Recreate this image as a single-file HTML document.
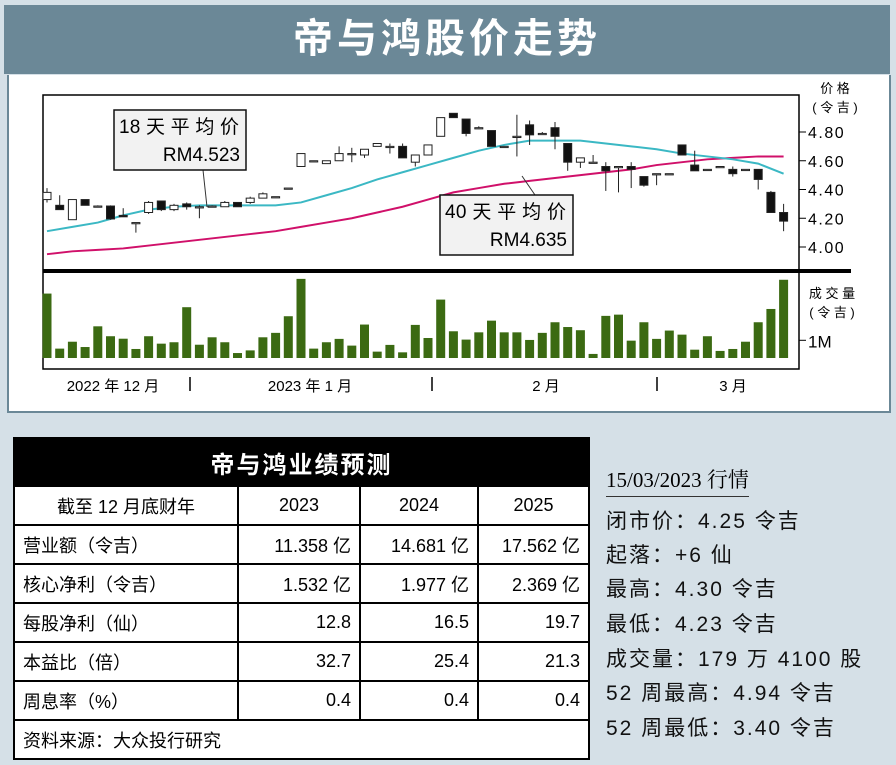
<!DOCTYPE html>
<html><head><meta charset="utf-8">
<style>
body{margin:0;width:896px;height:765px;background:#d5e0e7;font-family:"Liberation Sans","Noto Sans CJK SC",sans-serif;position:relative;overflow:hidden}
.abs{position:absolute}
#title{left:4px;top:5px;width:886px;height:69px;background:#6b8897;color:#fff;font-size:40px;font-weight:bold;text-align:center;line-height:69px;letter-spacing:4px}
#panel{left:7px;top:75px;width:880px;height:336px;background:#fff;border:2px solid #6b8897;border-top:none}
table{position:absolute;left:13px;top:437px;width:577px;border-collapse:collapse;background:#fff;font-size:18px}
td{border:2px solid #000;height:39px;padding:0 8px;box-sizing:border-box}
td.n{text-align:right}
.hd td{background:#000;color:#fff;font-size:24px;font-weight:bold;text-align:center;height:48px;letter-spacing:2px}
.side{left:606px;font-size:21px;letter-spacing:2px;color:#111}
</style></head><body>
<div id="title" class="abs">帝与鸿股价走势</div>
<div id="panel" class="abs"></div>
<svg class="abs" style="left:0;top:0" width="896" height="420" id="chart"></svg>

<table>
<tr class="hd"><td colspan="4">帝与鸿业绩预测</td></tr>
<tr><td style="text-align:center;width:224px">截至 12 月底财年</td><td style="text-align:center;width:122px">2023</td><td style="text-align:center;width:118px">2024</td><td style="text-align:center">2025</td></tr>
<tr><td>营业额（令吉）</td><td class="n">11.358 亿</td><td class="n">14.681 亿</td><td class="n">17.562 亿</td></tr>
<tr><td>核心净利（令吉）</td><td class="n">1.532 亿</td><td class="n">1.977 亿</td><td class="n">2.369 亿</td></tr>
<tr><td>每股净利（仙）</td><td class="n">12.8</td><td class="n">16.5</td><td class="n">19.7</td></tr>
<tr><td>本益比（倍）</td><td class="n">32.7</td><td class="n">25.4</td><td class="n">21.3</td></tr>
<tr><td>周息率（%）</td><td class="n">0.4</td><td class="n">0.4</td><td class="n">0.4</td></tr>
<tr><td colspan="4">资料来源：大众投行研究</td></tr>
</table>

<div class="abs" style="left:606px;top:464px;font-family:'Liberation Serif','Noto Serif CJK SC',serif;font-size:21px;border-bottom:1px solid #333;padding-bottom:2px">15/03/2023 行情</div>
<div class="abs side" style="top:505px">闭市价：4.25 令吉</div>
<div class="abs side" style="top:539px">起落：+6 仙</div>
<div class="abs side" style="top:573px">最高：4.30 令吉</div>
<div class="abs side" style="top:608px">最低：4.23 令吉</div>
<div class="abs side" style="top:643px">成交量：179 万 4100 股</div>
<div class="abs side" style="top:677px">52 周最高：4.94 令吉</div>
<div class="abs side" style="top:712px">52 周最低：3.40 令吉</div>

<script>
const opens  = [4.33,4.29,4.19,4.33,4.285,4.285,4.22,4.17,4.24,4.32,4.26,4.30,4.28,4.285,4.28,4.31,4.31,4.34,4.35,4.41,4.56,4.60,4.58,4.60,4.65,4.64,4.70,4.70,4.70,4.59,4.64,4.77,4.93,4.89,4.83,4.81,4.70,4.77,4.85,4.79,4.83,4.72,4.59,4.59,4.56,4.56,4.56,4.49,4.51,4.51,4.71,4.57,4.54,4.56,4.54,4.54,4.54,4.38,4.24];
const closes = [4.38,4.26,4.33,4.29,4.285,4.195,4.21,4.17,4.31,4.26,4.29,4.28,4.28,4.285,4.31,4.28,4.34,4.37,4.35,4.41,4.65,4.60,4.60,4.65,4.65,4.68,4.72,4.70,4.62,4.64,4.71,4.90,4.90,4.79,4.83,4.70,4.70,4.77,4.78,4.79,4.77,4.59,4.62,4.59,4.53,4.56,4.54,4.43,4.51,4.51,4.64,4.53,4.54,4.56,4.51,4.54,4.47,4.24,4.18];
const highs  = [4.41,4.36,4.33,4.33,4.29,4.29,4.27,4.17,4.32,4.32,4.30,4.31,4.29,4.29,4.32,4.31,4.35,4.38,4.35,4.41,4.65,4.60,4.60,4.70,4.69,4.68,4.72,4.72,4.72,4.64,4.71,4.90,4.93,4.89,4.84,4.81,4.70,4.92,4.88,4.80,4.87,4.72,4.62,4.64,4.59,4.56,4.59,4.49,4.51,4.51,4.71,4.67,4.54,4.56,4.56,4.54,4.54,4.39,4.30];
const lows   = [4.31,4.26,4.19,4.29,4.28,4.19,4.21,4.10,4.23,4.25,4.25,4.26,4.20,4.285,4.28,4.28,4.30,4.34,4.35,4.41,4.56,4.60,4.58,4.60,4.59,4.62,4.70,4.65,4.62,4.56,4.64,4.77,4.90,4.77,4.82,4.70,4.70,4.63,4.71,4.78,4.68,4.53,4.55,4.59,4.39,4.38,4.41,4.42,4.43,4.51,4.64,4.53,4.54,4.56,4.49,4.54,4.40,4.24,4.11];
const volumes = [3.64,0.53,0.92,0.62,1.79,1.23,1.09,0.51,1.23,0.81,0.89,2.87,0.75,1.17,0.89,0.28,0.43,1.17,1.42,2.36,4.47,0.53,0.89,1.08,0.70,1.89,0.36,0.74,0.32,1.87,1.13,3.30,1.51,1.04,1.45,2.11,1.45,1.45,1.02,1.42,2.02,1.75,1.57,0.23,2.38,2.45,0.98,2.02,1.08,1.55,1.32,0.47,1.23,0.40,0.51,0.92,2.02,2.77,4.42];
const ma18 = [4.11,4.14,4.17,4.22,4.26,4.28,4.29,4.29,4.29,4.29,4.31,4.36,4.41,4.47,4.52,4.57,4.62,4.67,4.71,4.74,4.74,4.74,4.72,4.70,4.68,4.65,4.63,4.61,4.58,4.51];
const ma40 = [3.95,3.97,3.98,3.99,4.01,4.03,4.05,4.07,4.09,4.11,4.14,4.17,4.20,4.24,4.28,4.33,4.38,4.41,4.44,4.46,4.48,4.50,4.52,4.54,4.57,4.59,4.61,4.62,4.63,4.63];
const priceTicks = [4.80,4.60,4.40,4.20,4.00];
const monthLabels = ["2022 年 12 月","2023 年 1 月","2 月","3 月"];

const svg = document.getElementById('chart');
const NS = 'http://www.w3.org/2000/svg';
const xS = i => 47 + 12.7 * i;
const yP = p => 247 - (p - 4) * 143.75;
const yV = v => 358 - v * 17.7;
function mk(tag, attrs){const e=document.createElementNS(NS,tag);for(const k in attrs)e.setAttribute(k,attrs[k]);svg.appendChild(e);return e;}

let f = mk('rect',{x:43,y:95,width:756,height:274,fill:'none',stroke:'#000','stroke-width':1.5});


let sep = mk('line',{x1:43,y1:271,x2:851,y2:271,stroke:'#000','stroke-width':4});



function maLine(vals,color,name){
  const pts = vals.map((v,k)=>xS(k*2)+','+yP(v)).join(' ');
  const l = mk('polyline',{points:pts,fill:'none',stroke:color,'stroke-width':2});
  
  
}
maLine(ma40,'#d0106a','ma40-line');
maLine(ma18,'#3bb8c4','ma18-line');

opens.forEach((o,i)=>{
  const c = closes[i], x = xS(i);
  const w = mk('line',{x1:x,x2:x,y1:yP(highs[i]),y2:yP(lows[i]),stroke:'#222','stroke-width':1});
  
  
  const top = Math.min(yP(o),yP(c)), h = Math.max(1.2,Math.abs(yP(o)-yP(c)));
  const b = mk('rect',{x:x-4,y:top,width:8,height:h,fill:c<o?'#111':'#fff',stroke:'#222','stroke-width':1});
  
  
});

volumes.forEach((v,i)=>{
  const r = mk('rect',{x:xS(i)-4.5,y:yV(v),width:9,height:358-yV(v),fill:'#3b6a12'});
  
  
});

priceTicks.forEach(p=>{
  const y = yP(p);
  const t = mk('line',{x1:799,x2:806,y1:y,y2:y,stroke:'#000','stroke-width':1});
  
  
  const tx = mk('text',{x:808,y:y+6,'font-size':16,'font-family':'Liberation Sans, sans-serif','letter-spacing':1.5});
  tx.textContent = p.toFixed(2);
  
  
});
const vt = mk('line',{x1:799,x2:806,y1:yV(1),y2:yV(1),stroke:'#000'});


const vtl = mk('text',{x:808,y:yV(1)+7,'font-size':17});
vtl.textContent='1M';



function txt(s,x,y,size,name,anchor){
  const t = mk('text',{x:x,y:y,'font-size':size,'text-anchor':anchor||'start','font-family':'Liberation Sans, Noto Sans CJK SC, sans-serif'});
  t.textContent=s;
  
  
  return t;
}
txt('价 格',835,93,13,'price-axis-title','middle');
txt('( 令 吉 )',835,112,13,'price-axis-unit','middle');
txt('成 交 量',832,298,13,'volume-axis-title','middle');
txt('( 令 吉 )',832,317,13,'volume-axis-unit','middle');

const monthX = [113,310,546,733];
monthLabels.forEach((m,k)=>txt(m,monthX[k],391,15,'month-label','middle'));
[190,432,657].forEach(x=>{
  const l = mk('line',{x1:x,x2:x,y1:377,y2:391,stroke:'#000','stroke-width':1.5});
  
  
});

function callout(x,y,w,h,l1,l2,px1,py1,px2,py2,name){
  const pl = mk('line',{x1:px1,y1:py1,x2:px2,y2:py2,stroke:'#333','stroke-width':1});
  
  
  const r = mk('rect',{x:x,y:y,width:w,height:h,fill:'#f2f2f2',stroke:'#111','stroke-width':1.5});
  
  
  const t1 = txt(l1,x+5,y+23,19,name+'-label');
  t1.setAttribute('textLength',w-12);
  t1.setAttribute('lengthAdjust','spacing');
  txt(l2,x+w-6,y+51,19,name+'-value','end');
}
callout(114,110,132,60,'18 天 平 均 价','RM4.523',203,170,207,207,'ma18-callout');
callout(440,195,133,60,'40 天 平 均 价','RM4.635',535,195,522,176,'ma40-callout');
</script>
</body></html>
